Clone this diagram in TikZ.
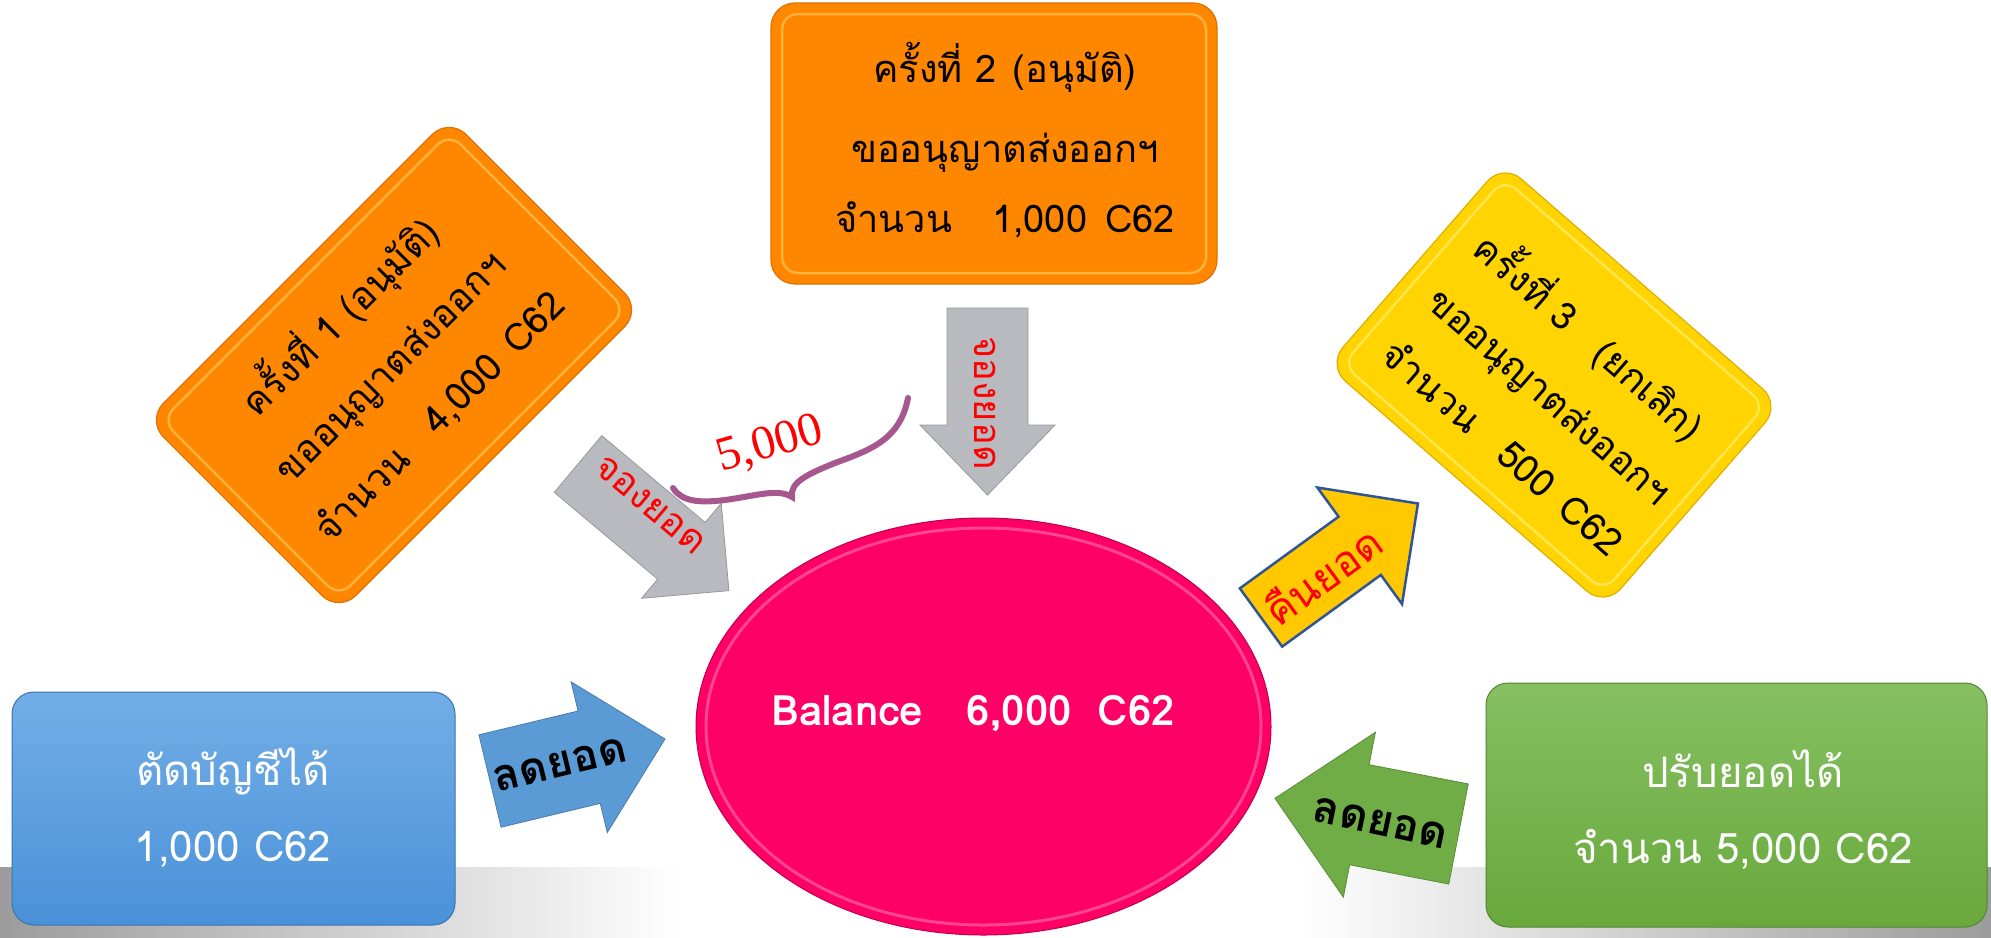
\documentclass[tikz,border=0pt]{standalone}
\usepackage{fontspec}
\newfontfamily\thai[Script=Thai]{Loma}
\newfontfamily\timesf{Liberation Serif}
\usetikzlibrary{shapes.geometric}
\definecolor{orangec}{HTML}{FF8700}
\definecolor{orangeedge}{HTML}{E07000}
\definecolor{orangebev}{HTML}{FFB23C}
\definecolor{yellowc}{HTML}{FFD400}
\definecolor{yellowedge}{HTML}{E0B000}
\definecolor{yellowbev}{HTML}{FFE650}
\definecolor{pinkc}{HTML}{FF0066}
\definecolor{grayarr}{HTML}{B8BABF}
\definecolor{bluetop}{HTML}{72AEE6}
\definecolor{bluebot}{HTML}{4A91D9}
\definecolor{bluearr}{HTML}{5B9BD5}
\definecolor{greentop}{HTML}{86C061}
\definecolor{greenbot}{HTML}{68A83C}
\definecolor{greenarr}{HTML}{70AD47}
\definecolor{goldarr}{HTML}{FFC800}
\definecolor{navyedge}{HTML}{2F5597}
\definecolor{bracec}{HTML}{A5578E}
\definecolor{bandgray}{HTML}{9C9C9C}
\newcommand{\blockarrow}[7]{%
  \begin{scope}[shift={#1},rotate=#2]
    \path[#7] (0,{-#4/2}) -- (#3,{-#4/2}) -- (#3,{-#6/2}) -- ({#3+#5},0)
      -- (#3,{#6/2}) -- (#3,{#4/2}) -- (0,{#4/2}) -- cycle;
  \end{scope}}
\tikzset{
  obox/.style={rectangle, rounded corners=24pt, fill=orangec, draw=orangeedge, line width=1.2pt, inner sep=0pt},
  obevel/.style={rectangle, rounded corners=16pt, draw=orangebev, line width=2.5pt, inner sep=0pt},
  ybox/.style={rectangle, rounded corners=24pt, fill=yellowc, draw=yellowedge, line width=1.2pt, inner sep=0pt},
  ybevel/.style={rectangle, rounded corners=16pt, draw=yellowbev, line width=2.5pt, inner sep=0pt},
  boxtxt/.style={font=\thai\fontsize{38}{70}\selectfont, text=black, inner sep=0pt},
  wtxt/.style={font=\thai\fontsize{42}{76}\selectfont, text=white, inner sep=0pt},
  arrtxt/.style={font=\thai\bfseries\fontsize{44}{50}\selectfont, inner sep=0pt},
  graytxt/.style={font=\thai\fontsize{38}{40}\selectfont, text=red, inner sep=0pt},
  grayarrow/.style={fill=grayarr, draw=gray!80, line width=0.8pt},
}
\begin{document}
\begin{tikzpicture}[x=1pt,y=-1pt]
\useasboundingbox (0,0) rectangle (1991,937);
\fill[white] (0,0) rectangle (1991,937);
% bottom band
\shade[left color=bandgray, right color=white] (0,867) rectangle (680,937);
\shade[left color=white, right color=bandgray] (1300,867) rectangle (1991,937);

% central ellipse
\node[ellipse, fill=pinkc, draw=pinkc!75!black, line width=1pt, minimum width=575pt, minimum height=417pt, inner sep=0pt] (bal) at (983.5,726.5) {};
\node[ellipse, draw=pinkc!55!white, line width=3pt, opacity=.6, minimum width=555pt, minimum height=397pt, inner sep=0pt] (balrim) at (bal.center) {};
\node[font=\thai\bfseries\fontsize{42}{46}\selectfont, text=white, inner sep=0pt] (baltxt) at (973,713) {Balance\hspace{44pt}6,000\hspace{26pt}C62};

% top orange box
\node[obox, minimum width=446pt, minimum height=281pt] (b2) at (994,143.5) {};
\node[obevel, minimum width=424pt, minimum height=259pt] (b2in) at (b2.center) {};
\node[boxtxt, align=center] (b2txt) at (1005,140) {ครั้งที่ 2\hspace{16pt}(อนุมัติ)\\[10pt]ขออนุญาตส่งออกฯ\\จำนวน\hspace{40pt}1,000\hspace{18pt}C62};

% left orange box
\node[obox, rotate=45, minimum width=428pt, minimum height=272pt] (b1) at (394,365) {};
\node[obevel, rotate=45, minimum width=406pt, minimum height=250pt] (b1in) at (b1.center) {};
\node[boxtxt, align=center, rotate=45] (b1txt) at (387,364) {ครั้งที่ 1 (อนุมัติ)\\ขออนุญาตส่งออกฯ\\จำนวน\hspace{36pt}4,000\hspace{18pt}C62};

% right yellow box
\node[ybox, rotate=-41, minimum width=368pt, minimum height=268pt] (b3) at (1554,385) {};
\node[ybevel, rotate=-41, minimum width=346pt, minimum height=246pt] (b3in) at (b3.center) {};
\node[boxtxt, align=left, rotate=-41, anchor=west] (b3txt) at (1437.5,290.4) {ครั้งที่ 3\hspace{36pt}(ยกเลิก)\\ขออนุญาตส่งออกฯ\\จำนวน\hspace{36pt}500\hspace{18pt}C62};

% blue box
\node[rectangle, rounded corners=22pt, top color=bluetop, bottom color=bluebot, draw=bluebot!80!black, line width=1pt, minimum width=443pt, minimum height=233pt, inner sep=0pt] (b4) at (233.5,808.5) {};
\node[wtxt, align=center] (b4txt) at (233,808) {ตัดบัญชีได้\\1,000 C62};

% green box
\node[rectangle, rounded corners=22pt, top color=greentop, bottom color=greenbot, draw=greenbot!80!black, line width=1pt, minimum width=501pt, minimum height=244pt, inner sep=0pt] (b5) at (1736.5,805) {};
\node[wtxt, align=center] (b5txt) at (1743,809.5) {ปรับยอดได้\\จำนวน 5,000 C62};

% block arrows
\blockarrow{(578,464)}{-40}{135}{74}{62}{124}{grayarrow}
\node[graytxt, rotate=-40] (g1txt) at (650,505) {จองยอด};
\blockarrow{(987.5,308)}{-90}{117}{81}{70}{135}{grayarrow}
\node[graytxt, rotate=-90] (g2txt) at (985,403) {จองยอด};
\blockarrow{(490,781)}{13.5}{102}{95}{78}{155}{fill=bluearr, draw=bluearr!80!black, line width=0.8pt}
\node[arrtxt, text=black, rotate=13.5] (a4txt) at (560,765) {ลดยอด};
\blockarrow{(1458.5,834)}{169}{101}{102}{86}{168}{fill=greenarr, draw=greenarr!80!black, line width=0.8pt}
\node[arrtxt, text=black, rotate=-12] (a5txt) at (1380,823) {ลดยอด};
\blockarrow{(1261,617.5)}{36}{122}{72}{72}{144}{fill=goldarr, draw=navyedge, line width=2.5pt}
\node[arrtxt, text=red, font=\thai\fontsize{42}{44}\selectfont, rotate=36] (a3txt) at (1322,575) {คืนยอด};

% brace and amount
\draw[bracec, line width=6pt, line cap=round] (673,488) .. controls (682,502) and (700,503) .. (725,500)
  .. controls (755,496) and (778,488) .. (792,497)
  .. controls (790,483) and (805,475) .. (835,463)
  .. controls (870,450) and (900,440) .. (908,398);
\node[font=\timesf\fontsize{48}{50}\selectfont, text=red, rotate=16, inner sep=0pt] (amount) at (770,445) {5,000};
\end{tikzpicture}
\end{document}
